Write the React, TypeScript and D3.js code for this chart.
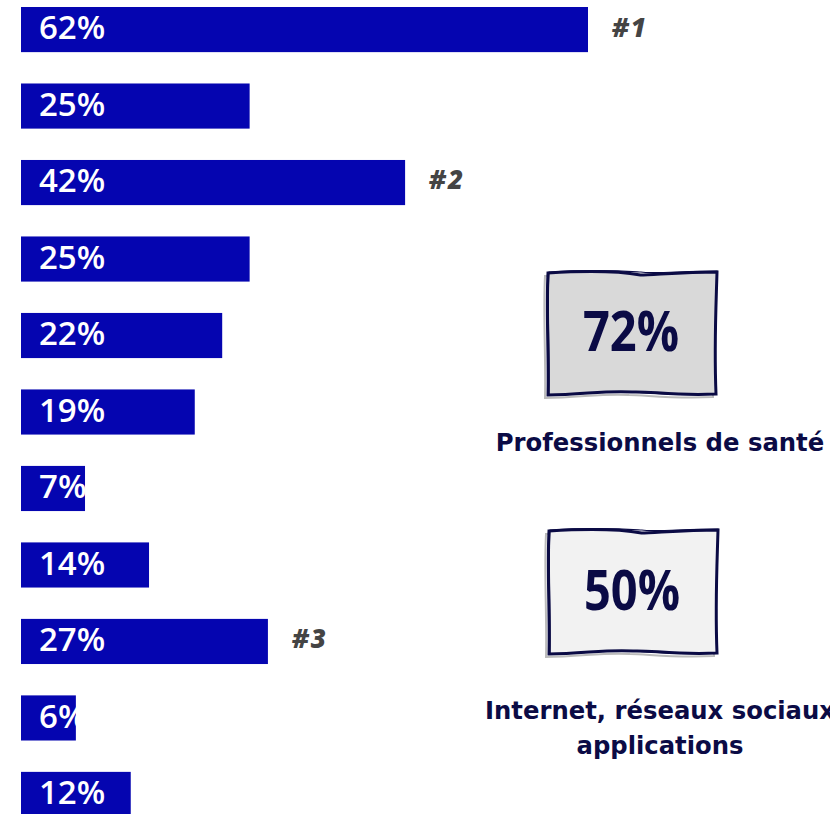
import React from "react";
import * as d3 from "d3";

const values = [62, 25, 42, 25, 22, 19, 7, 14, 27, 6, 12];
const ranks = ["#1", "", "#2", "", "", "", "", "", "#3", "", ""];
const sourceValues = [72, 50];
const sourceLabels = [["Professionnels de santé"], ["Internet, réseaux sociaux", "applications"]];
const sourceFills = ["#d9d9d9", "#f2f2f2"];

const W = 830;
const H = 814;
const NAVY = "#0b0b45";
const BAR = "#0505b0";

function sketchBox(x: number, y: number, w: number, h: number, j: number) {
  const p = d3.path();
  p.moveTo(x + 1, y + 2);
  p.bezierCurveTo(x + w * 0.3, y - 1, x + w * 0.45, y + 1, x + w * 0.55, y + 2 + j);
  p.bezierCurveTo(x + w * 0.62, y + 4, x + w * 0.8, y + 1, x + w, y + 1);
  p.bezierCurveTo(x + w - 1, y + h * 0.3, x + w - 3, y + h * 0.6, x + w - 1, y + h - 1);
  p.bezierCurveTo(x + w * 0.75, y + h + 1, x + w * 0.6, y + h - 2 - j, x + w * 0.5, y + h - 3);
  p.bezierCurveTo(x + w * 0.35, y + h - 5, x + w * 0.2, y + h, x + 1, y + h);
  p.bezierCurveTo(x + 2, y + h * 0.7, x - 1, y + h * 0.3, x + 1, y + 2);
  p.closePath();
  return p.toString();
}

export default function App() {
  const x = d3.scaleLinear().domain([0, 62]).range([21, 588]);
  const y = d3
    .scaleBand<number>()
    .domain(values.map((_, i) => i))
    .range([7, 817])
    .paddingInner(0.41)
    .paddingOuter(0);
  const bh = y.bandwidth();

  const boxes = [
    { bx: 547, by: 271, bw: 170, bh: 124, ty: 336, ly: [444] },
    { bx: 548, by: 529, bw: 170, bh: 125, ty: 595, ly: [712, 747] },
  ];

  return (
    <svg
      width={W}
      height={H}
      style={{ position: "absolute", left: 0, top: 0, background: "#fff" }}
    >
      {values.map((v, i) => (
        <g key={i}>
          <rect x={x(0)} y={y(i)!} width={x(v) - x(0)} height={bh} fill={BAR} />
          <text
            x={39}
            y={y(i)! + bh / 2 + 1}
            dominantBaseline="middle"
            fill="#fff"
            fontFamily="'Open Sans', sans-serif"
            fontWeight={600}
            fontSize={33}
          >
            {v}%
          </text>
          {ranks[i] && (
            <text
              x={x(v) + 24}
              y={y(i)! + bh / 2}
              dominantBaseline="middle"
              fill="#444"
              fontFamily="'Open Sans', sans-serif"
              fontWeight={800}
              fontStyle="italic"
              fontSize={26}
              letterSpacing={2}
            >
              {ranks[i]}
            </text>
          )}
        </g>
      ))}
      {sourceValues.map((v, i) => {
        const b = boxes[i];
        return (
          <g key={"s" + i}>
            <path
              d={sketchBox(b.bx - 3, b.by + 3, b.bw, b.bh, 1)}
              fill="none"
              stroke="#bbb"
              strokeWidth={2}
            />
            <path d={sketchBox(b.bx, b.by, b.bw, b.bh, 2)} fill={sourceFills[i]} stroke={NAVY} strokeWidth={3} />
            <path
              d={sketchBox(b.bx + 1, b.by - 1, b.bw - 1, b.bh + 1, 0)}
              fill="none"
              stroke={NAVY}
              strokeWidth={1.2}
            />
            <text
              transform={`translate(${b.bx + b.bw / 2 - 1},${b.ty}) scale(0.84,1)`}
              textAnchor="middle"
              dominantBaseline="middle"
              fill={NAVY}
              fontFamily="'Open Sans', sans-serif"
              fontWeight={700}
              fontSize={56}
            >
              {v}%
            </text>
            {sourceLabels[i].map((l, k) => (
              <text
                key={k}
                x={660}
                y={b.ly[k]}
                textAnchor="middle"
                dominantBaseline="middle"
                fill={NAVY}
                fontFamily="'DejaVu Sans', sans-serif"
                fontWeight={700}
                fontSize={24.3}
              >
                {l}
              </text>
            ))}
          </g>
        );
      })}
    </svg>
  );
}
